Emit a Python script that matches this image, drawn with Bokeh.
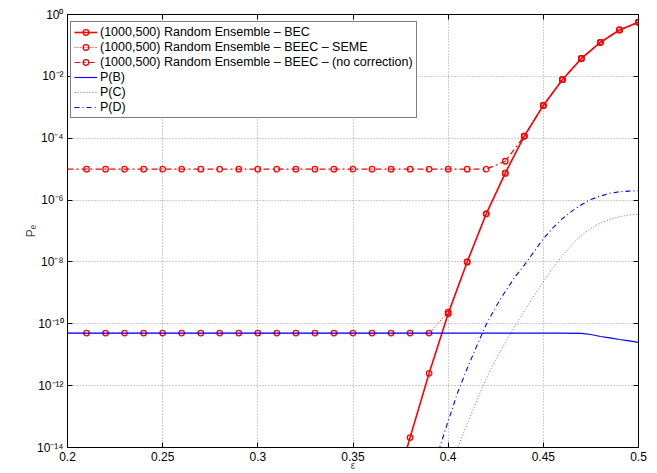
from bokeh.plotting import figure
from bokeh.models import (LogAxis, LinearAxis, FixedTicker, CustomJSTickFormatter,
                          Legend, LegendItem, Range1d)
from bokeh.embed import file_html
from bokeh.resources import INLINE

# ---------------- data ----------------
# (1000,500) Random Ensemble - BEC
bec_x = [0.37, 0.38, 0.39, 0.40, 0.41, 0.42, 0.43, 0.44, 0.45, 0.46, 0.47, 0.48, 0.49, 0.50]
bec_y = [1.6e-16, 2.1e-14, 2.5e-12, 2.1e-10, 1.0e-8, 3.6e-7, 7.4e-6, 1.17e-4, 1.15e-3,
         7.8e-3, 3.8e-2, 0.126, 0.316, 0.562]

# (1000,500) Random Ensemble - BEEC - SEME
seme_x = [0.20, 0.21, 0.22, 0.23, 0.24, 0.25, 0.26, 0.27, 0.28, 0.29, 0.30, 0.31, 0.32,
          0.33, 0.34, 0.35, 0.36, 0.37, 0.38, 0.39, 0.40, 0.41, 0.42, 0.43, 0.44, 0.45,
          0.46, 0.47, 0.48, 0.49, 0.50]
seme_y = [5.0e-11] * 20 + [2.4e-10, 1.0e-8, 3.6e-7, 7.4e-6, 1.17e-4, 1.15e-3,
                           7.8e-3, 3.8e-2, 0.126, 0.316, 0.562]

# (1000,500) Random Ensemble - BEEC - (no correction)
nc_x = list(seme_x)
nc_y = [1.0e-5] * 23 + [1.8e-5, 1.17e-4, 1.15e-3, 7.8e-3, 3.8e-2, 0.126, 0.316, 0.562]

# P(B)
pb_x = [0.20, 0.25, 0.30, 0.35, 0.40, 0.45, 0.46, 0.47, 0.475, 0.48, 0.485, 0.49, 0.495, 0.50]
pb_y = [5.0e-11, 5.0e-11, 5.0e-11, 5.0e-11, 5.0e-11, 5.0e-11, 5.0e-11, 4.9e-11, 4.5e-11,
        3.9e-11, 3.5e-11, 3.1e-11, 2.8e-11, 2.5e-11]

# P(C)
pc_x = [0.40, 0.405, 0.41, 0.415, 0.42, 0.425, 0.43, 0.435, 0.44, 0.445, 0.45, 0.455,
        0.46, 0.465, 0.47, 0.475, 0.48, 0.485, 0.49, 0.495, 0.50]
pc_y = [1.3e-15, 1.0e-14, 5.8e-14, 3.2e-13, 1.7e-12, 7.1e-12, 2.5e-11, 8.3e-11, 2.6e-10,
        7.9e-10, 2.3e-9, 6.3e-9, 1.6e-8, 3.6e-8, 7.2e-8, 1.23e-7, 1.8e-7, 2.4e-7, 2.9e-7,
        3.3e-7, 3.5e-7]

# P(D)
pd_x = [0.395, 0.40, 0.405, 0.41, 0.415, 0.42, 0.425, 0.43, 0.435, 0.44, 0.445, 0.45,
        0.455, 0.46, 0.465, 0.47, 0.475, 0.48, 0.485, 0.49, 0.495, 0.50]
pd_y = [7.9e-15, 7.1e-14, 6.0e-13, 3.6e-12, 1.9e-11, 9.5e-11, 3.5e-10, 1.1e-9, 3.2e-9,
        7.9e-9, 2.1e-8, 5.6e-8, 1.26e-7, 2.5e-7, 4.4e-7, 7.1e-7, 1.05e-6, 1.35e-6,
        1.66e-6, 1.86e-6, 1.95e-6, 2.0e-6]

x_ticks = [0.2, 0.25, 0.3, 0.35, 0.4, 0.45, 0.5]
x_tick_labels = ["0.2", "0.25", "0.3", "0.35", "0.4", "0.45", "0.5"]
y_ticks = [1e-14, 1e-12, 1e-10, 1e-8, 1e-6, 1e-4, 1e-2, 1e0]
y_tick_labels = ["10⁻¹⁴", "10⁻¹²", "10⁻¹⁰", "10⁻⁸", "10⁻⁶", "10⁻⁴", "10⁻²", "10⁰"]

legend_labels = ["(1000,500) Random Ensemble – BEC",
                 "(1000,500) Random Ensemble – BEEC – SEME",
                 "(1000,500) Random Ensemble – BEEC – (no correction)",
                 "P(B)", "P(C)", "P(D)"]

FONT = "Liberation Sans"
RED = "#ff0000"
BLUE = "#0000ff"

p = figure(width=657, height=473, y_axis_type="log",
           x_range=Range1d(0.2, 0.5), y_range=Range1d(1e-14, 1.0),
           output_backend="svg", toolbar_location=None,
           min_border_left=67, min_border_right=19, min_border_top=14, min_border_bottom=26)

p.background_fill_color = "white"
p.border_fill_color = "white"
p.outline_line_color = "black"
p.outline_line_width = 1

# grids
p.xgrid.ticker = FixedTicker(ticks=x_ticks)
p.ygrid.ticker = FixedTicker(ticks=y_ticks)
for g in (p.xgrid, p.ygrid):
    g.grid_line_color = "#9a9a9a"
    g.grid_line_dash = "1 2"
    g.grid_line_width = 1

xfmt = CustomJSTickFormatter(args=dict(vals=x_ticks, labs=x_tick_labels), code="""
const i = vals.findIndex(v => Math.abs(v - tick) < 1e-9);
return i >= 0 ? labs[i] : '';
""")
yfmt = CustomJSTickFormatter(args=dict(vals=y_ticks, labs=y_tick_labels), code="""
const i = vals.findIndex(v => Math.abs(Math.log10(v) - Math.log10(tick)) < 1e-6);
return i >= 0 ? labs[i] : '';
""")
blankfmt = CustomJSTickFormatter(code="return ' ';")

def style_axis(ax):
    ax.axis_line_color = "black"
    ax.axis_line_width = 1
    ax.major_tick_in = 5
    ax.major_tick_out = 0
    ax.major_tick_line_color = "black"
    ax.minor_tick_line_color = None
    ax.major_label_text_font = FONT
    ax.major_label_text_color = "black"
    ax.major_label_text_font_size = "12px"

xa = p.xaxis[0]
xa.ticker = FixedTicker(ticks=x_ticks)
xa.formatter = xfmt
style_axis(xa)
xa.major_label_standoff = 4
xa.axis_label = "ε"
xa.axis_label_text_font = FONT
xa.axis_label_text_font_size = "10px"
xa.axis_label_text_font_style = "normal"
xa.axis_label_standoff = -4

ya = p.yaxis[0]
ya.ticker = FixedTicker(ticks=y_ticks)
ya.formatter = yfmt
style_axis(ya)
ya.major_label_standoff = 4
ya.axis_label = "Pₑ"
ya.axis_label_text_font = FONT
ya.axis_label_text_font_size = "12px"
ya.axis_label_text_font_style = "normal"
ya.axis_label_standoff = -4

top = LinearAxis(ticker=FixedTicker(ticks=x_ticks), formatter=blankfmt)
style_axis(top)
top.major_label_text_font_size = "1px"
top.major_label_standoff = 0
p.add_layout(top, "above")
right = LogAxis(ticker=FixedTicker(ticks=y_ticks), formatter=blankfmt)
style_axis(right)
right.major_label_text_font_size = "1px"
right.major_label_standoff = 0
p.add_layout(right, "right")

# ---------------- series ----------------
MS = 5.5
r_bec_l = p.line(bec_x, bec_y, line_color=RED, line_width=1.6)
r_bec_m = p.scatter(bec_x, bec_y, marker="circle", size=MS, line_color=RED,
                    fill_color=None, line_width=1.3)

r_seme_l = p.line(seme_x, seme_y, line_color=RED, line_width=1, line_dash="1 2")
r_seme_m = p.scatter(seme_x[1:], seme_y[1:], marker="circle", size=MS, line_color=RED,
                     fill_color=None, line_width=1.3)

r_nc_l = p.line(nc_x, nc_y, line_color=RED, line_width=1.2, line_dash="6 3 2 3")
r_nc_m = p.scatter(nc_x[1:], nc_y[1:], marker="circle", size=MS, line_color=RED,
                   fill_color=None, line_width=1.3)

r_pb = p.line(pb_x, pb_y, line_color=BLUE, line_width=1.1)
r_pc = p.line(pc_x, pc_y, line_color=BLUE, line_alpha=0.6, line_width=1, line_dash="1 2")
r_pd = p.line(pd_x, pd_y, line_color=BLUE, line_width=1.1, line_dash="5 3 1 3")

legend = Legend(items=[
    LegendItem(label=legend_labels[0], renderers=[r_bec_l, r_bec_m]),
    LegendItem(label=legend_labels[1], renderers=[r_seme_l, r_seme_m]),
    LegendItem(label=legend_labels[2], renderers=[r_nc_l, r_nc_m]),
    LegendItem(label=legend_labels[3], renderers=[r_pb]),
    LegendItem(label=legend_labels[4], renderers=[r_pc]),
    LegendItem(label=legend_labels[5], renderers=[r_pd]),
], location=(3, 329))
legend.margin = 0
legend.padding = 3
legend.spacing = 1
legend.label_height = 14
legend.glyph_height = 14
legend.glyph_width = 23
legend.label_standoff = 3
legend.label_text_font = FONT
legend.label_text_font_size = "12.5px"
legend.label_text_color = "black"
legend.border_line_color = "black"
legend.border_line_width = 1
legend.background_fill_color = "white"
legend.background_fill_alpha = 1
p.add_layout(legend)

open("out.html", "w").write(file_html(p, INLINE))
